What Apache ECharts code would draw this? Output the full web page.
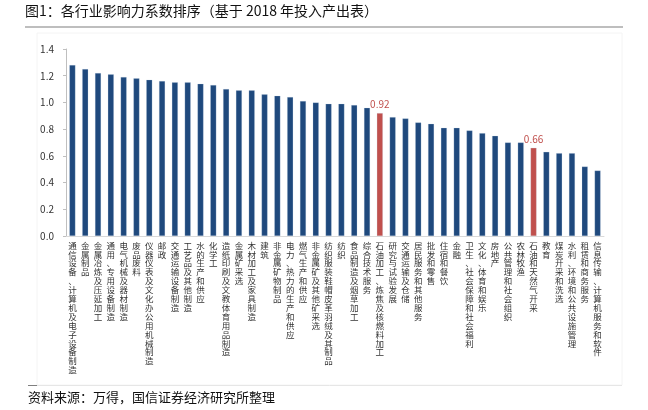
<!DOCTYPE html>
<html>
<head>
<meta charset="utf-8">
<script src="https://cdn.jsdelivr.net/npm/echarts@6/dist/echarts.min.js"></script>
<style>html,body{margin:0;padding:0;background:#fff;}#c{width:648px;height:410px;}</style>
</head>
<body>
<div id="c"></div>
<script>
const categories = [
  '通信设备、计算机及电子设备制造','金属制品','金属冶炼及压延加工','通用、专用设备制造','电气机械及器材制造',
  '废品废料','仪器仪表及文化办公用机械制造','邮政','交通运输设备制造','工艺品及其他制造',
  '水的生产和供应','化学工','造纸印刷及文教体育用品制造','金属矿采选','木材加工及家具制造',
  '建筑','非金属矿物制品','电力、热力的生产和供应','燃气生产和供应','非金属矿及其他矿采选',
  '纺织服装鞋帽皮革羽绒及其制品','纺织','食品制造及烟草加工','综合技术服务','石油加工、炼焦及核燃料加工',
  '研究与试验发展','交通运输及仓储','居民服务和其他服务','批发和零售','住宿和餐饮',
  '金融','卫生、社会保障和社会福利','文化、体育和娱乐','房地产','公共管理和社会组织',
  '农林牧渔','石油和天然气开采','教育','煤炭开采和洗选','水利、环境和公共设施管理',
  '租赁和商务服务','信息传输、计算机服务和软件'
];
const values = [
  1.28,1.25,1.22,1.21,1.19,
  1.18,1.17,1.16,1.15,1.15,
  1.14,1.13,1.10,1.09,1.09,
  1.06,1.05,1.04,1.01,1.00,
  0.99,0.99,0.98,0.96,0.92,
  0.89,0.88,0.85,0.84,0.81,
  0.81,0.79,0.77,0.75,0.70,
  0.70,0.66,0.63,0.62,0.62,
  0.52,0.49
];
const highlighted = ['石油加工、炼焦及核燃料加工','石油和天然气开采'];
const yTicks = [0, 0.2, 0.4, 0.6, 0.8, 1.0, 1.2, 1.4];

const BLUE = '#1F497D', RED = '#C0504D';
const data = values.map((v, i) => {
  const hi = highlighted.includes(categories[i]);
  return {
    value: v,
    itemStyle: { color: hi ? RED : BLUE },
    label: hi ? { show: true, position: 'top', color: RED, fontSize: 10, distance: 4,
                  formatter: p => p.value.toFixed(2) } : { show: false }
  };
});

const chart = echarts.init(document.getElementById('c'), null, { renderer: 'canvas' });
chart.setOption({
  animation: false,
  backgroundColor: '#fff',
  textStyle: { fontFamily: '"Noto Sans CJK SC", "Noto Sans", sans-serif' },
  grid: { left: 66, right: 44, top: 49, bottom: 174, containLabel: false },
  xAxis: {
    type: 'category',
    data: categories,
    axisLine: { lineStyle: { color: '#d9d9d9', width: 1 } },
    axisTick: { show: false },
    axisLabel: {
      interval: 0,
      margin: 5,
      color: '#333',
      fontSize: 8.5,
      lineHeight: 8.9,
      verticalAlign: 'top',
      formatter: s => s.split('').join('\n')
    }
  },
  yAxis: {
    type: 'value',
    min: yTicks[0],
    max: yTicks[yTicks.length - 1],
    interval: 0.2,
    splitLine: { show: false },
    axisLine: { show: true, lineStyle: { color: '#bfbfbf' } },
    axisTick: { show: true, length: 3, lineStyle: { color: '#bfbfbf' } },
    axisLabel: { color: '#333', fontSize: 10, margin: 12, formatter: v => v.toFixed(1) }
  },
  series: [{
    type: 'bar',
    data: data,
    barWidth: 6,
    itemStyle: { borderColor: 'rgba(200,215,235,0.6)', borderWidth: 0.4 }
  }],
  graphic: [
    { type: 'text', left: 25, top: 4, style: { text: '图1：各行业影响力系数排序（基于 2018 年投入产出表）',
      fill: '#111', font: '14px "Noto Sans CJK SC", sans-serif' } },
    { type: 'line', shape: { x1: 25, y1: 27, x2: 623, y2: 27 }, style: { stroke: '#7f7f7f', lineWidth: 1.2 } },
    { type: 'rect', shape: { x: 37, y: 33, width: 585, height: 352 }, style: { fill: 'none', stroke: '#f4f4f4', lineWidth: 1 } },
    { type: 'line', shape: { x1: 28, y1: 385.5, x2: 37, y2: 385.5 }, style: { stroke: '#7f7f7f', lineWidth: 1 } },
    { type: 'line', shape: { x1: 37, y1: 385.5, x2: 622, y2: 385.5 }, style: { stroke: '#e6e6e6', lineWidth: 1 } },
    { type: 'text', left: 28, top: 391, style: { text: '资料来源：万得，国信证券经济研究所整理',
      fill: '#111', font: '13px "Noto Sans CJK SC", sans-serif' } }
  ]
});
</script>
</body>
</html>
